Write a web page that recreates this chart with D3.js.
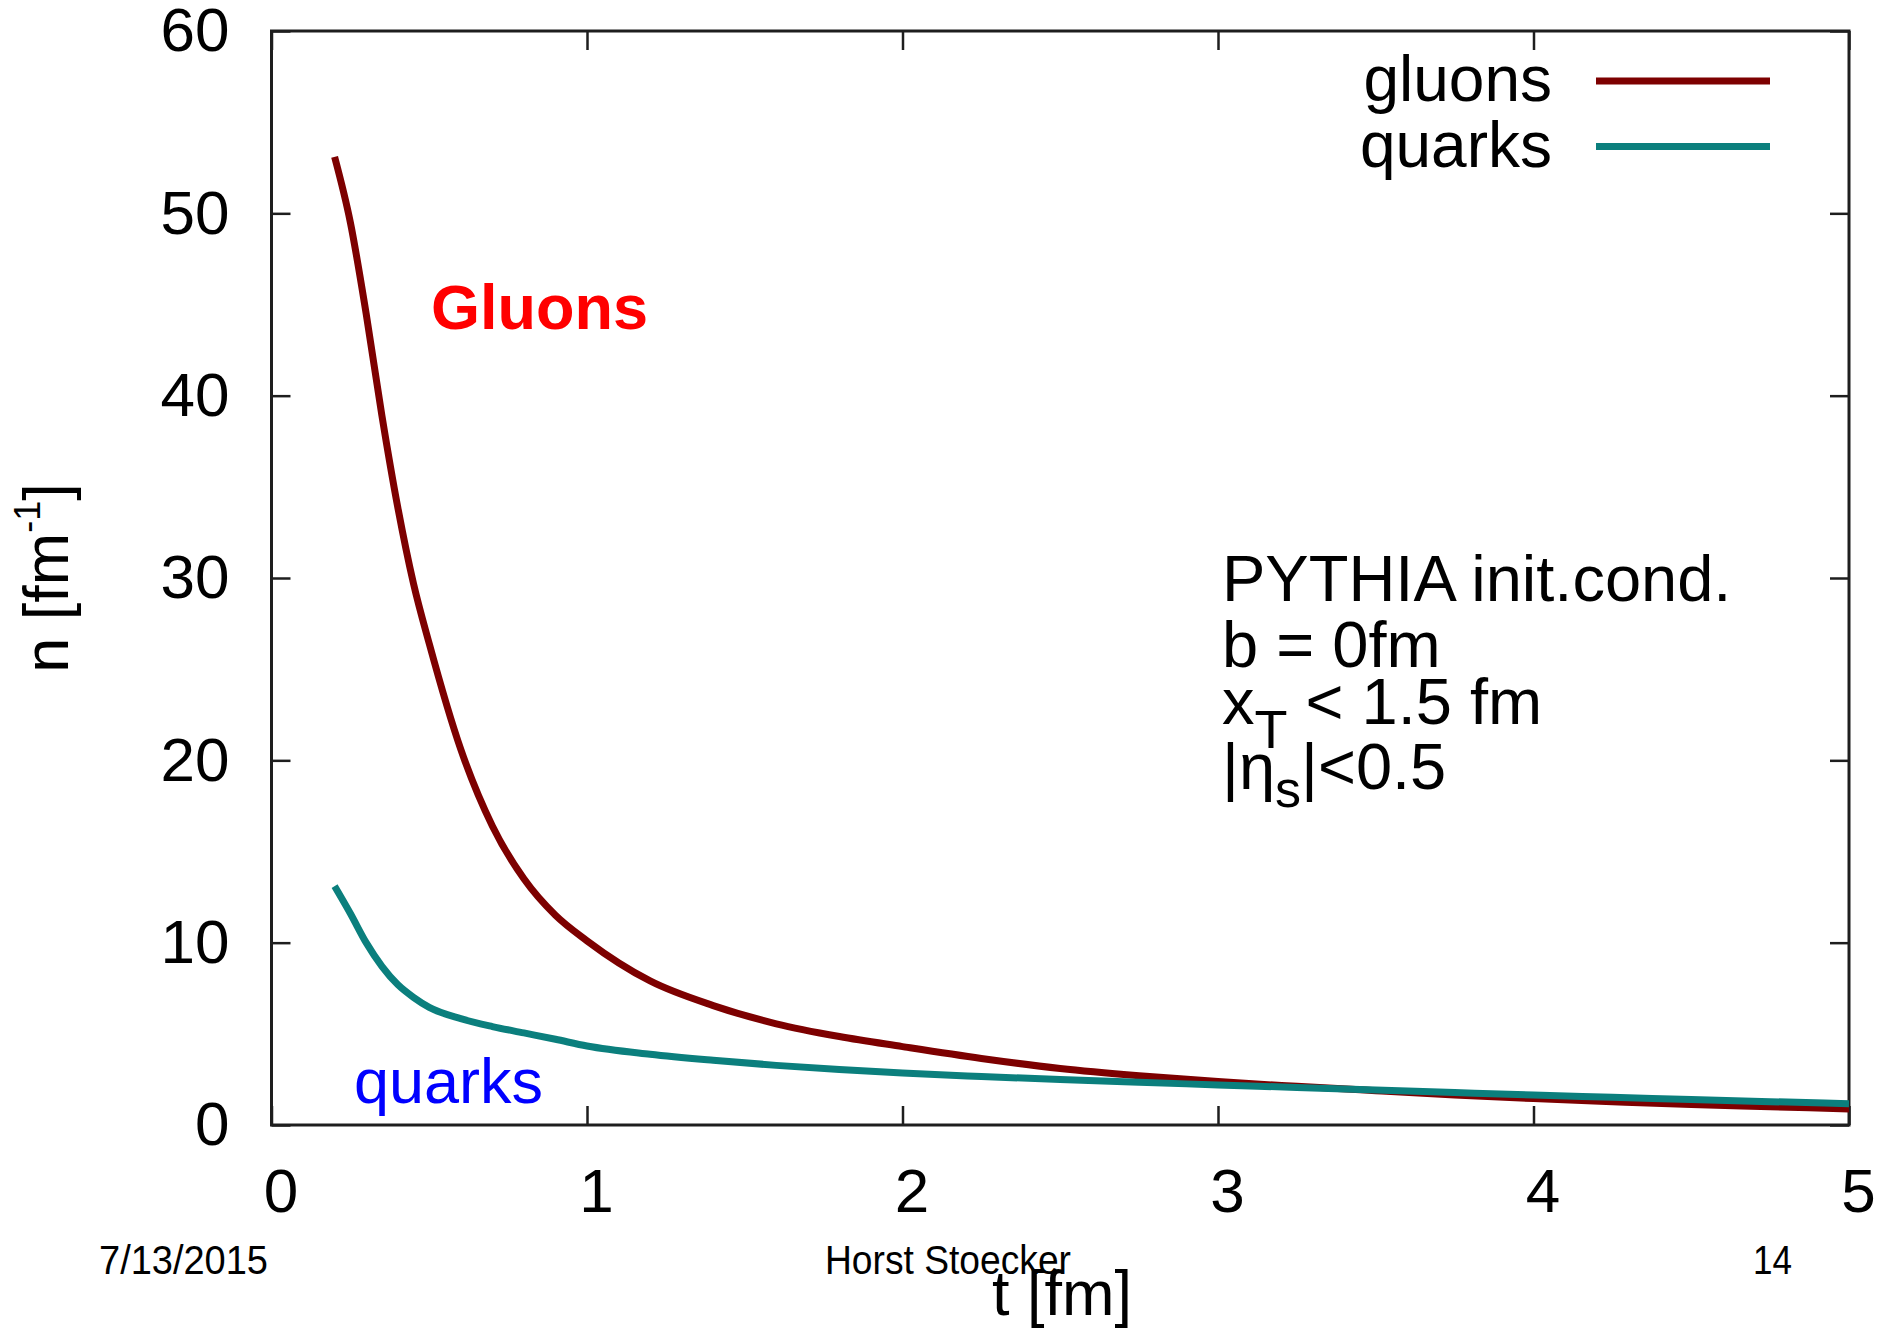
<!DOCTYPE html>
<html>
<head>
<meta charset="utf-8">
<script src="https://cdn.jsdelivr.net/npm/d3@7"></script>
<style>
  html, body { margin: 0; padding: 0; background: #ffffff; }
  svg { display: block; font-family: "Liberation Sans", Arial, Helvetica, sans-serif; }
</style>
</head>
<body>
<svg id="chart" width="1892" height="1330"></svg>
<script>
// Time axis samples t [fm]
const times = [0.2, 0.25, 0.3, 0.35, 0.4, 0.45, 0.5, 0.6, 0.7, 0.8, 0.9, 1.0,
               1.2, 1.4, 1.6, 1.8, 2.0, 2.25, 2.5, 2.75, 3.0, 3.25, 3.5, 3.75,
               4.0, 4.25, 4.5, 4.75, 5.0];
// Gluon number n [fm^-1]
const gluons = [53.1, 49.5, 44.5, 38.9, 33.9, 29.7, 26.4, 20.6, 16.4, 13.5, 11.5, 10.1,
                7.9, 6.55, 5.55, 4.85, 4.3, 3.65, 3.1, 2.7, 2.38, 2.12, 1.88, 1.65,
                1.45, 1.28, 1.12, 1.0, 0.88];
// Quark number n [fm^-1]
const quarks = [13.1, 11.6, 10.0, 8.7, 7.7, 7.0, 6.45, 5.83, 5.4, 5.05, 4.7, 4.33,
                3.88, 3.55, 3.27, 3.04, 2.85, 2.66, 2.49, 2.34, 2.2, 2.06, 1.92, 1.78,
                1.64, 1.52, 1.4, 1.28, 1.17];

const xTicks = [0, 1, 2, 3, 4, 5];
const yTicks = [0, 10, 20, 30, 40, 50, 60];
const seriesNames = ["gluons", "quarks"];
const seriesColors = ["#7d0000", "#0b7f7d"];
const infoLines = ["PYTHIA init.cond.", "b = 0fm"];

(function draw() {
  const svg = d3.select("#chart");
  const plotL = 271.5, plotR = 1849, plotT = 31, plotB = 1125;

  const x = d3.scaleLinear().domain([0, 5]).range([plotL, plotR]);
  const y = d3.scaleLinear().domain([0, 60]).range([plotB, plotT]);

  const tickLen = 19;
  const axisColor = "#1e1e1e";

  // Bottom axis with labels
  const gx = svg.append("g").attr("transform", `translate(0,${plotB})`)
    .call(d3.axisBottom(x).tickValues(xTicks).tickFormat(d3.format("d"))
          .tickSizeInner(-tickLen).tickSizeOuter(0).tickPadding(43));
  // Left axis with labels
  const gy = svg.append("g").attr("transform", `translate(${plotL},0)`)
    .call(d3.axisLeft(y).tickValues(yTicks).tickFormat(d3.format("d"))
          .tickSizeInner(-tickLen).tickSizeOuter(0).tickPadding(42));
  // Mirrored ticks on top and right
  const gxt = svg.append("g").attr("transform", `translate(0,${plotT})`)
    .call(d3.axisTop(x).tickValues(xTicks).tickFormat("")
          .tickSizeInner(-tickLen).tickSizeOuter(0));
  const gyr = svg.append("g").attr("transform", `translate(${plotR},0)`)
    .call(d3.axisRight(y).tickValues(yTicks).tickFormat("")
          .tickSizeInner(-tickLen).tickSizeOuter(0));

  [gx, gy, gxt, gyr].forEach(g => {
    g.select(".domain").remove();
    g.selectAll(".tick line").attr("stroke", axisColor).attr("stroke-width", 2.5);
    g.selectAll(".tick text")
      .attr("fill", "#000")
      .style("font-family", '"Liberation Sans", Arial, sans-serif')
      .style("font-size", "62px");
  });
  gx.selectAll(".tick text").attr("x", 9);

  // Plot frame
  svg.append("rect")
    .attr("x", plotL).attr("y", plotT)
    .attr("width", plotR - plotL).attr("height", plotB - plotT)
    .attr("fill", "none").attr("stroke", axisColor).attr("stroke-width", 3);

  // Curves
  const line = d3.line()
    .x((d, i) => x(times[i]))
    .y(d => y(d))
    .curve(d3.curveMonotoneX);

  [gluons, quarks].forEach((vals, k) => {
    svg.append("path")
      .datum(vals)
      .attr("d", line)
      .attr("fill", "none")
      .attr("stroke", seriesColors[k])
      .attr("stroke-width", 7)
      .attr("stroke-linejoin", "round");
  });

  // Legend
  seriesNames.forEach((name, i) => {
    const ly = 81 + i * 65.5;
    svg.append("text")
      .attr("x", 1552).attr("y", ly + 20)
      .attr("text-anchor", "end")
      .style("font-size", "64px")
      .attr("fill", "#000")
      .text(name);
    svg.append("line")
      .attr("x1", 1596).attr("x2", 1770)
      .attr("y1", ly).attr("y2", ly)
      .attr("stroke", seriesColors[i]).attr("stroke-width", 7);
  });

  // Run conditions
  const info = svg.append("g").style("font-size", "65px").attr("fill", "#000");
  infoLines.forEach((s, i) => {
    info.append("text").attr("x", 1222).attr("y", 601 + i * 66).text(s);
  });
  const xt = info.append("text").attr("x", 1222).attr("y", 724);
  xt.append("tspan").text("x");
  xt.append("tspan").attr("dy", 24).style("font-size", "54px").text("T");
  xt.append("tspan").attr("dy", -24).text(" < 1.5 fm");
  const eta = info.append("text").attr("x", 1222).attr("y", 789);
  eta.append("tspan").text("|η");
  eta.append("tspan").attr("dy", 18).style("font-size", "52px").text("s");
  eta.append("tspan").attr("dy", -18).text("|<0.5");

  // Species labels inside the plot
  svg.append("text")
    .attr("x", 431).attr("y", 329)
    .style("font-size", "63px").style("font-weight", "bold")
    .attr("fill", "#ff0000")
    .text("Gluons");
  svg.append("text")
    .attr("x", 354).attr("y", 1103)
    .style("font-size", "63px")
    .attr("fill", "#0000ff")
    .text("quarks");

  // Axis titles
  svg.append("text")
    .attr("x", 1062).attr("y", 1315)
    .attr("text-anchor", "middle")
    .style("font-size", "63px")
    .attr("fill", "#000")
    .text("t [fm]");

  const yl = svg.append("text")
    .attr("transform", "translate(68,578) rotate(-90)")
    .attr("text-anchor", "middle")
    .style("font-size", "63px")
    .attr("fill", "#000");
  yl.append("tspan").text("n [fm");
  yl.append("tspan").attr("dy", -28).style("font-size", "36px").text("-1");
  yl.append("tspan").attr("dy", 28).text("]");

  // Slide footer
  const footer = svg.append("g").style("font-size", "41px").attr("fill", "#000");
  footer.append("text").attr("x", 99).attr("y", 1274)
    .attr("textLength", 169).attr("lengthAdjust", "spacingAndGlyphs").text("7/13/2015");
  footer.append("text").attr("x", 825).attr("y", 1274)
    .attr("textLength", 246).attr("lengthAdjust", "spacingAndGlyphs").text("Horst Stoecker");
  footer.append("text").attr("x", 1753).attr("y", 1274)
    .attr("textLength", 39).attr("lengthAdjust", "spacingAndGlyphs").text("14");
})();
</script>
</body>
</html>
